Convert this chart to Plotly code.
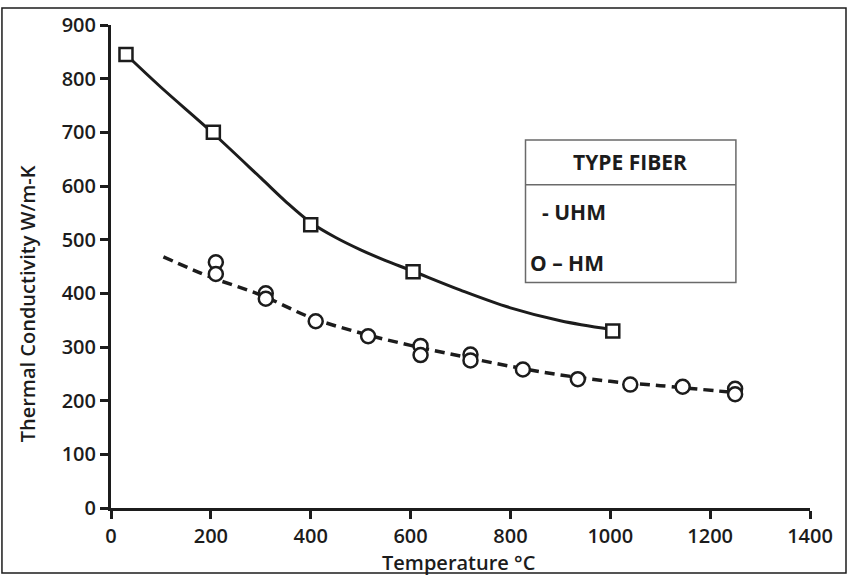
import plotly.graph_objects as go

UHM_TEMP = [30, 205, 400, 605, 1005]
UHM_K = [845, 700, 528, 440, 330]

HM_TEMP = [210, 210, 310, 310, 410, 515, 620, 620, 720, 720, 825, 935, 1040, 1145, 1250, 1250]
HM_K = [458, 436, 400, 390, 348, 320, 302, 285, 286, 275, 258, 240, 230, 226, 222, 212]

# Curves drawn through the data
UHM_FIT_TEMP = [30, 100, 200, 300, 350, 400, 450, 500, 550, 600, 700, 800, 900, 1000]
UHM_FIT_K = [845, 784, 702, 615, 571, 532, 504, 481, 461, 443, 406, 373, 349, 333]

HM_FIT_TEMP = [105, 200, 300, 400, 500, 600, 700, 800, 900, 1000, 1100, 1250]
HM_FIT_K = [468, 430, 397, 355, 326, 303, 283, 264, 248, 236, 228, 215]

X_TICKS = [0, 200, 400, 600, 800, 1000, 1200, 1400]
Y_TICKS = [0, 100, 200, 300, 400, 500, 600, 700, 800, 900]

INK = "#1c1c1c"
FONT = "Open Sans, Liberation Sans, sans-serif"

fig = go.Figure()

fig.add_trace(go.Scatter(
    x=UHM_FIT_TEMP, y=UHM_FIT_K, mode="lines", line_shape="spline",
    line=dict(color=INK, width=3), hoverinfo="skip",
))
fig.add_trace(go.Scatter(
    x=HM_FIT_TEMP, y=HM_FIT_K, mode="lines", line_shape="spline",
    line=dict(color=INK, width=3.5, dash="10px,6px"), hoverinfo="skip",
))
fig.add_trace(go.Scatter(
    x=UHM_TEMP, y=UHM_K, mode="markers", name="UHM",
    marker=dict(symbol="square", size=13, color="white",
                line=dict(color=INK, width=2.5)),
))
fig.add_trace(go.Scatter(
    x=HM_TEMP, y=HM_K, mode="markers", name="HM",
    marker=dict(symbol="circle", size=14, color="white",
                line=dict(color=INK, width=2.5)),
))

# hand-drawn legend box, as in the original figure
box_line = dict(color="#6a6a6a", width=1.5)
fig.add_shape(type="rect", xref="paper", yref="paper",
              x0=0.593, x1=0.894, y0=0.467, y1=0.762, line=box_line)
fig.add_shape(type="line", xref="paper", yref="paper",
              x0=0.593, x1=0.894, y0=0.669, y1=0.669, line=box_line)

# outer frame of the picture
fig.add_shape(type="rect", xref="paper", yref="paper",
              x0=-0.156, x1=1.0515, y0=-0.1346, y1=1.035,
              line=dict(color=INK, width=1.5))

legend_font = dict(family=FONT, size=21, color=INK, weight=700)
fig.add_annotation(text="TYPE FIBER", xref="paper", yref="paper",
                   x=0.743, y=0.717, xanchor="center", yanchor="middle",
                   showarrow=False, font=legend_font)
fig.add_annotation(text="- UHM", xref="paper", yref="paper",
                   x=0.614, y=0.612, xanchor="left", yanchor="middle",
                   showarrow=False, font=legend_font)
fig.add_annotation(text="O \u2013 HM", xref="paper", yref="paper",
                   x=0.597, y=0.508, xanchor="left", yanchor="middle",
                   showarrow=False, font=legend_font)

title_font = dict(family=FONT, size=20, color=INK, weight=600)
# axis titles placed where the original has them
fig.add_annotation(text="Thermal Conductivity W/m-K", xref="paper", yref="paper",
                   x=-0.120, y=0.422, xanchor="center", yanchor="middle",
                   textangle=-90, showarrow=False, font=title_font)
fig.add_annotation(text="Temperature \u00b0C", xref="paper", yref="paper",
                   x=0.498, y=-0.112, xanchor="center", yanchor="middle",
                   showarrow=False, font=title_font)

axis_common = dict(
    showgrid=False, zeroline=False, showline=True, linewidth=3, linecolor=INK,
    ticks="outside", ticklen=8, tickwidth=3, tickcolor=INK, automargin=False,
    tickfont=dict(family=FONT, size=20, color=INK, weight=600),
)

fig.update_layout(
    width=848, height=575,
    margin=dict(l=111, r=38, t=25, b=67),
    paper_bgcolor="white", plot_bgcolor="white",
    showlegend=False,
    xaxis=dict(range=[0, 1400], tickvals=X_TICKS, **axis_common),
    yaxis=dict(range=[0, 900], tickvals=Y_TICKS, **axis_common),
)

# drop the browser's default page margin so the figure sits at the window origin
fig.write_html("out.html", config={"displayModeBar": False},
               post_script="document.body.style.margin='0';")
